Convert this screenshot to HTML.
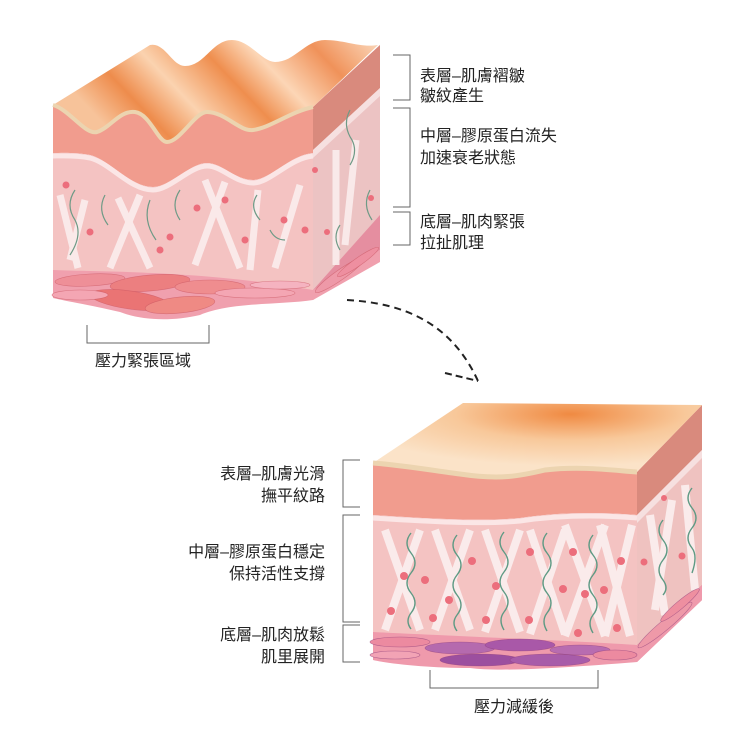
<!DOCTYPE html>
<html><head><meta charset="utf-8"><style>
html,body{margin:0;padding:0;background:#fff;}
svg{display:block}
text{font-family:"Liberation Sans","Noto Sans CJK TC",sans-serif;font-size:16px;fill:#222;}
</style></head><body>
<svg width="750" height="750" viewBox="0 0 750 750" xmlns="http://www.w3.org/2000/svg">
<defs>
<linearGradient id="topg" x1="0" y1="0.3" x2="1" y2="0">
<stop offset="0" stop-color="#f7c39a"/><stop offset="0.15" stop-color="#ee8c4c"/><stop offset="0.3" stop-color="#fbd3b0"/><stop offset="0.48" stop-color="#ef8e4e"/><stop offset="0.62" stop-color="#fcd6b6"/><stop offset="0.8" stop-color="#f0925a"/><stop offset="1" stop-color="#fbd9bc"/>
</linearGradient>
<radialGradient id="topg2" cx="0.6" cy="0.15" r="0.7">
<stop offset="0" stop-color="#f08a42"/><stop offset="0.5" stop-color="#f8c89a"/><stop offset="1" stop-color="#fbe3c8"/>
</radialGradient>
<linearGradient id="mus" x1="0" y1="0" x2="0" y2="1">
<stop offset="0" stop-color="#f39aa8"/><stop offset="0.5" stop-color="#ec7f86"/><stop offset="1" stop-color="#e8a0ad"/>
</linearGradient>
<linearGradient id="mus2" x1="0" y1="0" x2="1" y2="0">
<stop offset="0" stop-color="#ee8ea2"/><stop offset="0.25" stop-color="#b35aa8"/><stop offset="0.7" stop-color="#a85aa8"/><stop offset="1" stop-color="#ee8ea2"/>
</linearGradient>
</defs>

<!-- ===== TOP BLOCK ===== -->
<polygon points="313,107 380,45 380,250 313,298" fill="#ecc3c3"/>
<polygon points="313,107 380,45 380,88 313,150" fill="#d98a7d"/>
<polygon points="313,150 380,88 380,96 313,158" fill="#f6e0e0"/>
<polygon points="313,290 380,215 380,250 313,300" fill="#e58ea0"/>
<!-- top face -->
<path d="M53,105 L150,45 C165,42 172,66 185,66 C205,66 212,40 232,40 C250,40 262,62 275,62 C295,62 305,40 325,40 C345,40 360,48 378,45 L313,107 C290,112 270,128 253,130 C240,132 225,112 207,112 C195,112 180,142 167,142 C158,142 150,114 135,112 C120,110 110,128 97,132 C85,135 70,110 53,105 Z" fill="url(#topg)"/>
<!-- epidermis band -->
<path d="M53,105 C70,110 85,135 97,132 C110,128 120,110 135,112 C150,114 158,142 167,142 C180,142 195,112 207,112 C225,112 240,132 253,130 C270,128 290,112 313,107 L313,153 C290,155 270,180 253,180 C235,180 222,163 207,163 C190,163 170,187 153,187 C130,187 110,160 90,155 C75,152 60,153 53,153 Z" fill="#f19c8e"/>
<path d="M53,105 C70,110 85,135 97,132 C110,128 120,110 135,112 C150,114 158,142 167,142 C180,142 195,112 207,112 C225,112 240,132 253,130 C270,128 290,112 313,107" fill="none" stroke="#ecd4b0" stroke-width="4"/>
<!-- dermis -->
<path d="M53,153 C60,153 75,152 90,155 C110,160 130,187 153,187 C170,187 190,163 207,163 C222,163 235,180 253,180 C270,180 290,155 313,153 L313,295 L53,280 Z" fill="#f4c3c2"/>
<path d="M53,156 C60,156 75,155 90,158 C110,163 130,190 153,190 C170,190 190,166 207,166 C222,166 235,183 253,183 C270,183 290,158 313,156" fill="none" stroke="#fbe6e6" stroke-width="5"/>
<g stroke="#fbeeee" stroke-width="7" opacity="0.9">
<line x1="60" y1="195" x2="78" y2="268"/><line x1="85" y1="200" x2="70" y2="260"/>
<line x1="118" y1="198" x2="150" y2="268"/><line x1="140" y1="195" x2="110" y2="268"/>
<line x1="205" y1="180" x2="240" y2="268"/><line x1="225" y1="182" x2="195" y2="265"/>
<line x1="258" y1="190" x2="250" y2="270"/><line x1="300" y1="185" x2="275" y2="268"/>
<line x1="336" y1="150" x2="336" y2="265"/><line x1="356" y1="140" x2="345" y2="245"/>
</g>
<g fill="none" stroke="#6e9a86" stroke-width="1.2">
<path d="M75,190 q-10,15 0,30 q8,15 -5,35"/><path d="M105,195 q-8,15 3,30"/><path d="M150,200 q-8,20 6,40"/>
<path d="M180,190 q-10,15 0,30"/><path d="M257,195 q-8,12 3,25"/><path d="M270,230 q5,10 15,10"/>
<path d="M350,110 q-8,15 2,30 q6,12 -2,25"/><path d="M370,190 q-8,15 2,30"/><path d="M340,225 q-8,12 0,25"/>
</g>
<g fill="#ec6e7c">
<circle cx="66" cy="185" r="3.5"/><circle cx="90" cy="232" r="3.5"/><circle cx="160" cy="250" r="3.5"/><circle cx="197" cy="208" r="3.5"/><circle cx="170" cy="237" r="3.5"/><circle cx="225" cy="200" r="3.5"/><circle cx="245" cy="240" r="3.5"/><circle cx="284" cy="220" r="3.5"/><circle cx="305" cy="230" r="3.5"/><circle cx="315" cy="170" r="3"/><circle cx="327" cy="232" r="3"/><circle cx="371" cy="198" r="3"/>
</g>
<!-- muscle -->
<path d="M53,270 C100,272 200,270 313,290 L380,250 L380,262 L313,300 C280,305 230,302 200,315 C170,322 140,320 120,312 C90,305 60,300 53,298 Z" fill="#f0a0ae"/>
<g stroke="#c8535f" stroke-width="0.6" stroke-opacity="0.6">
<ellipse cx="90" cy="280" rx="35" ry="6" fill="#ee8f98" transform="rotate(-3 90 280)"/>
<ellipse cx="150" cy="283" rx="40" ry="8" fill="#ec7f80" transform="rotate(-5 150 283)"/>
<ellipse cx="210" cy="287" rx="35" ry="7" fill="#ef8d8f"/>
<ellipse cx="130" cy="300" rx="40" ry="9" fill="#ea7474" transform="rotate(8 130 300)"/>
<ellipse cx="180" cy="305" rx="35" ry="8" fill="#ef8a84" transform="rotate(-6 180 305)"/>
<ellipse cx="80" cy="295" rx="28" ry="5" fill="#f4a6b3"/>
<ellipse cx="255" cy="293" rx="40" ry="5" fill="#f4a6b3"/>
<ellipse cx="280" cy="285" rx="30" ry="4" fill="#f5b3c0"/>
<ellipse cx="340" cy="275" rx="30" ry="5" fill="#ee99a8" transform="rotate(-35 340 275)"/>
<ellipse cx="358" cy="262" rx="25" ry="4" fill="#ee8fa0" transform="rotate(-35 358 262)"/>
</g>

<g stroke="#666" stroke-width="1" fill="none">
<polyline points="393,55 410,55 410,100 393,100"/>
<polyline points="393,108 410,108 410,207 393,207"/>
<polyline points="393,212 410,212 410,245 393,245"/>
<polyline points="87,325 87,343 209,343 209,325"/>
</g>
<text x="420" y="81">表層–肌膚褶皺</text>
<text x="420" y="101">皺紋產生</text>
<text x="420" y="141">中層–膠原蛋白流失</text>
<text x="420" y="163">加速衰老狀態</text>
<text x="420" y="227">底層–肌肉緊張</text>
<text x="420" y="248">拉扯肌理</text>
<text x="95" y="366">壓力緊張區域</text>

<path d="M347,300 C400,303 450,320 478,381" fill="none" stroke="#222" stroke-width="2" stroke-dasharray="7,5"/>
<path d="M445,373 L478,381" fill="none" stroke="#222" stroke-width="2" stroke-dasharray="7,4"/>

<!-- ===== BOTTOM BLOCK ===== -->
<polygon points="637,472 702,405 702,600 637,660" fill="#efc2c0"/>
<polygon points="637,472 702,405 702,450 637,515" fill="#d98a7d"/>
<polygon points="637,515 702,450 702,458 637,523" fill="#f6e0e0"/>
<polygon points="637,645 702,585 702,600 637,662" fill="#e58ea0"/>
<path d="M373,463 L463,403 L702,405 L637,472 C600,470 560,468 540,475 C510,480 480,475 440,470 C410,466 390,464 373,463 Z" fill="url(#topg2)"/>
<path d="M373,463 C400,465 430,470 460,474 C500,480 520,476 545,470 C580,466 610,470 637,472 L637,515 C600,512 560,512 520,518 C480,522 420,518 373,515 Z" fill="#f19c8e"/>
<path d="M373,463 C400,465 430,470 460,474 C500,480 520,476 545,470 C580,466 610,470 637,472" fill="none" stroke="#ecd4b0" stroke-width="5"/>
<path d="M373,515 C420,518 480,522 520,518 C560,512 600,512 637,515 L637,655 L373,638 Z" fill="#f4c3c2"/>
<path d="M373,518 C420,521 480,525 520,521 C560,515 600,515 637,518" fill="none" stroke="#fbe6e6" stroke-width="5"/>
<g stroke="#fbeeee" stroke-width="8" opacity="0.95">
<line x1="385" y1="530" x2="420" y2="630"/><line x1="420" y1="530" x2="385" y2="630"/>
<line x1="435" y1="530" x2="470" y2="630"/><line x1="470" y1="530" x2="435" y2="630"/>
<line x1="485" y1="530" x2="520" y2="632"/><line x1="520" y1="530" x2="485" y2="632"/>
<line x1="530" y1="530" x2="565" y2="634"/><line x1="565" y1="530" x2="530" y2="634"/>
<line x1="565" y1="525" x2="605" y2="636"/><line x1="605" y1="525" x2="565" y2="636"/>
<line x1="600" y1="525" x2="630" y2="636"/><line x1="632" y1="525" x2="605" y2="636"/>
<line x1="650" y1="515" x2="665" y2="615"/><line x1="672" y1="500" x2="655" y2="610"/><line x1="685" y1="485" x2="695" y2="590"/>
</g>
<g fill="none" stroke="#5e9a84" stroke-width="1.4">
<path d="M411,533 q-8,10 0,20 q8,10 0,20 q-8,10 0,20 q8,10 0,20 q-6,8 0,16"/>
<path d="M457,535 q-8,10 0,20 q8,10 0,20 q-8,10 0,20 q8,10 0,20 q-6,8 0,16"/>
<path d="M504,532 q-8,10 0,20 q8,10 0,20 q-8,10 0,20 q8,10 0,20 q-6,8 0,18"/>
<path d="M547,533 q-8,10 0,20 q8,10 0,20 q-8,10 0,20 q8,10 0,20 q-6,8 0,18"/>
<path d="M593,535 q-8,10 0,20 q8,10 0,20 q-8,10 0,20 q8,10 0,20 q-6,8 0,18"/>
<path d="M663,520 q-8,10 0,20 q8,10 0,20 q-8,10 0,20 q6,8 0,15"/>
<path d="M692,488 q-8,10 0,20 q8,10 0,20 q-8,10 0,20 q6,8 0,25"/>
</g>
<g fill="#ec6e7c">
<circle cx="404" cy="576" r="4"/><circle cx="425" cy="580" r="4"/><circle cx="391" cy="611" r="4"/><circle cx="433" cy="618" r="4"/><circle cx="449" cy="600" r="4"/><circle cx="472" cy="561" r="4"/><circle cx="496" cy="586" r="4"/><circle cx="486" cy="620" r="4"/><circle cx="530" cy="552" r="4"/><circle cx="529" cy="620" r="4"/><circle cx="573" cy="552" r="4"/><circle cx="563" cy="589" r="4"/><circle cx="585" cy="594" r="4"/><circle cx="604" cy="590" r="4"/><circle cx="621" cy="561" r="4"/><circle cx="578" cy="633" r="4"/><circle cx="617" cy="628" r="4"/><circle cx="644" cy="562" r="3.5"/><circle cx="682" cy="556" r="3.5"/><circle cx="664" cy="498" r="3"/>
</g>
<path d="M373,632 C450,636 560,640 637,645 L702,585 L702,600 L637,662 C560,668 500,672 470,668 C430,668 390,664 373,660 Z" fill="#ef9aac"/>
<g stroke="#8a3a78" stroke-width="0.6" stroke-opacity="0.6">
<ellipse cx="400" cy="642" rx="30" ry="5" fill="#ec8aa0"/>
<ellipse cx="395" cy="655" rx="25" ry="4" fill="#f2a3b5"/>
<ellipse cx="460" cy="648" rx="35" ry="6" fill="#b56aae"/>
<ellipse cx="520" cy="645" rx="35" ry="6" fill="#a958a8"/>
<ellipse cx="480" cy="660" rx="40" ry="6" fill="#9c4f9f"/>
<ellipse cx="550" cy="660" rx="40" ry="6" fill="#a85ca9"/>
<ellipse cx="580" cy="650" rx="30" ry="5" fill="#b86cb0"/>
<ellipse cx="615" cy="655" rx="22" ry="5" fill="#ec8aa0"/>
<ellipse cx="665" cy="625" rx="35" ry="5" fill="#ee99a8" transform="rotate(-40 665 625)"/>
<ellipse cx="680" cy="605" rx="25" ry="4" fill="#ee8fa0" transform="rotate(-40 680 605)"/>
</g>

<g stroke="#666" stroke-width="1" fill="none">
<polyline points="360,460 343,460 343,507 360,507"/>
<polyline points="360,515 343,515 343,622 360,622"/>
<polyline points="360,625 343,625 343,662 360,662"/>
<polyline points="430,670 430,688 598,688 598,670"/>
</g>
<g text-anchor="end">
<text x="325" y="479">表層–肌膚光滑</text>
<text x="325" y="501">撫平紋路</text>
<text x="325" y="557">中層–膠原蛋白穩定</text>
<text x="325" y="579">保持活性支撐</text>
<text x="325" y="640">底層–肌肉放鬆</text>
<text x="325" y="662">肌里展開</text>
</g>
<text x="514" y="712" text-anchor="middle">壓力減緩後</text>
</svg>
</body></html>
